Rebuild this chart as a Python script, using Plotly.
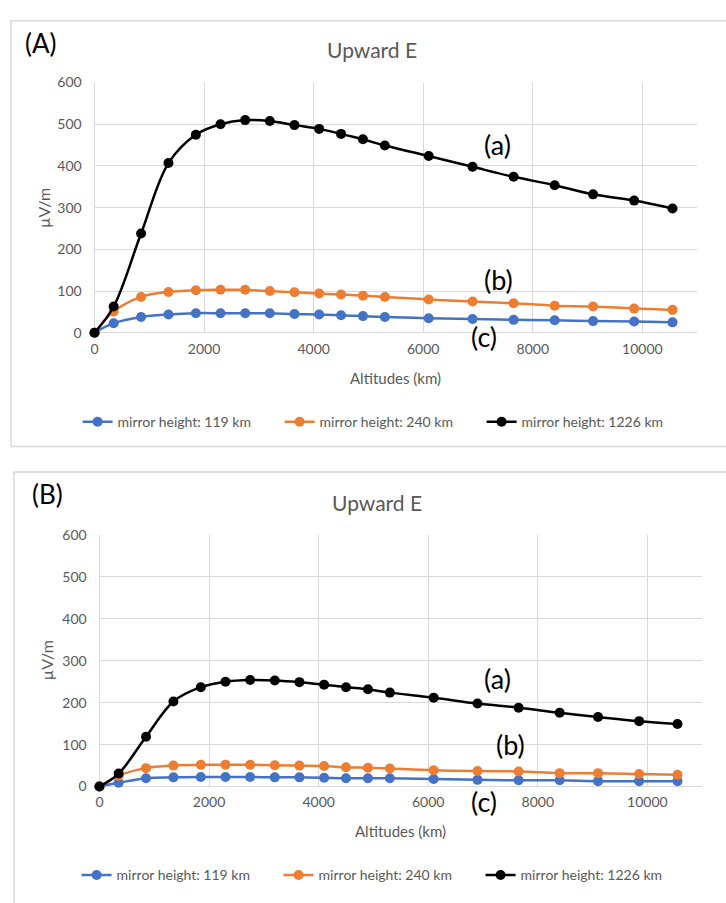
import plotly.graph_objects as go

W, H = 726, 903

# ---- data ----
altitudes = [0, 350, 850, 1350, 1850, 2300, 2750, 3200, 3650, 4100, 4500,
             4900, 5300, 6100, 6900, 7650, 8400, 9100, 9850, 10550]

a_119 = [0, 23, 38, 44, 47, 47, 47, 47, 45, 44, 42, 40, 38, 35, 33, 31, 30, 28, 27, 25]
a_240 = [0, 51, 86, 98, 102, 103, 103, 100, 97, 94, 92, 89, 86, 80, 75, 71, 65, 63, 58, 55]
a_1226 = [0, 63, 238, 407, 475, 500, 510, 508, 498, 489, 477, 464, 449, 424, 398, 374, 354, 332, 317, 298]

b_119 = [0, 9, 20, 22, 23, 23, 23, 22, 22, 21, 20, 20, 20, 18, 16, 15, 15, 13, 13, 13]
b_240 = [0, 26, 44, 50, 52, 52, 52, 51, 50, 49, 46, 45, 43, 39, 37, 36, 32, 32, 30, 28]
b_1226 = [0, 31, 119, 203, 237, 250, 254, 253, 249, 243, 237, 232, 224, 212, 198, 188, 176, 166, 156, 149]

series_names = ["mirror height: 119 km", "mirror height: 240 km", "mirror height: 1226 km"]
series_colors = ["#4472C4", "#ED7D31", "#000000"]
x_ticks = [0, 2000, 4000, 6000, 8000, 10000]
x_tick_labels = ["0", "2000", "4000", "6000", "8000", "10000"]
y_ticks = [0, 100, 200, 300, 400, 500, 600]
y_tick_labels = ["0", "100", "200", "300", "400", "500", "600"]


def px(x):
    return x / W


def py(y):
    return 1 - y / H


FONT = "Lato, 'Open Sans', sans-serif"
GRAY = "#595959"
GRID = "#D9D9D9"

fig = go.Figure()

for panel, (vals, xa, ya, leg) in enumerate([
        ((a_119, a_240, a_1226), "x", "y", "legend"),
        ((b_119, b_240, b_1226), "x2", "y2", "legend2")]):
    for name, color, v in zip(series_names, series_colors, vals):
        fig.add_trace(go.Scatter(
            x=altitudes, y=v, name=name, mode="lines+markers",
            line=dict(color=color, width=2.5, shape="spline", smoothing=1.0),
            marker=dict(color=color, size=10),
            xaxis=xa, yaxis=ya, legend=leg, cliponaxis=False,
        ))

axis_common = dict(showgrid=True, gridcolor=GRID, gridwidth=1, zeroline=True,
                   zerolinecolor=GRID, zerolinewidth=1, showline=False,
                   tickfont=dict(family=FONT, size=14, color=GRAY))

xcommon = dict(range=[0, 11000], tickvals=x_ticks, ticktext=x_tick_labels,
               ticks="outside", ticklen=3, tickcolor="rgba(0,0,0,0)", **axis_common)
ycommon = dict(range=[0, 600], tickvals=y_ticks, ticktext=y_tick_labels,
               ticks="outside", ticklen=9, tickcolor="rgba(0,0,0,0)", **axis_common)

legend_common = dict(orientation="h", xanchor="left", yanchor="middle",
                     font=dict(family=FONT, size=14, color=GRAY), entrywidth=157,
                     entrywidthmode="pixels", bgcolor="rgba(0,0,0,0)")

fig.update_layout(
    width=W, height=H, autosize=False,
    margin=dict(l=0, r=0, t=0, b=0),
    paper_bgcolor="white", plot_bgcolor="white",
    showlegend=True,
    xaxis=dict(domain=[px(91), px(697)], anchor="y", **xcommon),
    yaxis=dict(domain=[py(330), py(75)], anchor="x", **ycommon),
    xaxis2=dict(domain=[px(96), px(702)], anchor="y2", **xcommon),
    yaxis2=dict(domain=[py(792.5), py(536)], anchor="x2", **ycommon),
    legend=dict(x=px(74), y=py(421), **legend_common),
    legend2=dict(x=px(73), y=py(883), **legend_common),
)

# frames
fig.add_shape(type="rect", xref="paper", yref="paper", x0=px(7), x1=px(760),
              y0=py(446), y1=py(12), line=dict(color=GRID, width=1.5), layer="below")
fig.add_shape(type="rect", xref="paper", yref="paper", x0=px(10), x1=px(760),
              y0=py(930), y1=py(472), line=dict(color=GRID, width=1.5), layer="below")

ann = []


def add_text(text, x, y, size, color, angle=0):
    ann.append(dict(text=text, x=px(x), y=py(y), xref="paper", yref="paper",
                    showarrow=False, xanchor="center", yanchor="middle",
                    textangle=angle, font=dict(family=FONT, size=size, color=color)))


# panel A
add_text("(A)", 37, 35, 26, "black")
add_text("Upward E", 370, 41, 21, GRAY)
add_text("µV/m", 39, 203, 16, GRAY, -90)
add_text("Altitudes (km)", 394, 376, 15, GRAY)
add_text("(a)", 496, 138, 27, "black")
add_text("(b)", 497, 276, 27, "black")
add_text("(c)", 483, 334, 27, "black")
# panel B
add_text("(B)", 44, 494, 26, "black")
add_text("Upward E", 375, 503, 21, GRAY)
add_text("µV/m", 43, 664, 16, GRAY, -90)
add_text("Altitudes (km)", 399, 838, 15, GRAY)
add_text("(a)", 496, 682, 27, "black")
add_text("(b)", 509, 750, 27, "black")
add_text("(c)", 483, 808, 27, "black")

fig.update_layout(annotations=ann)

fig.write_html("out.html")
